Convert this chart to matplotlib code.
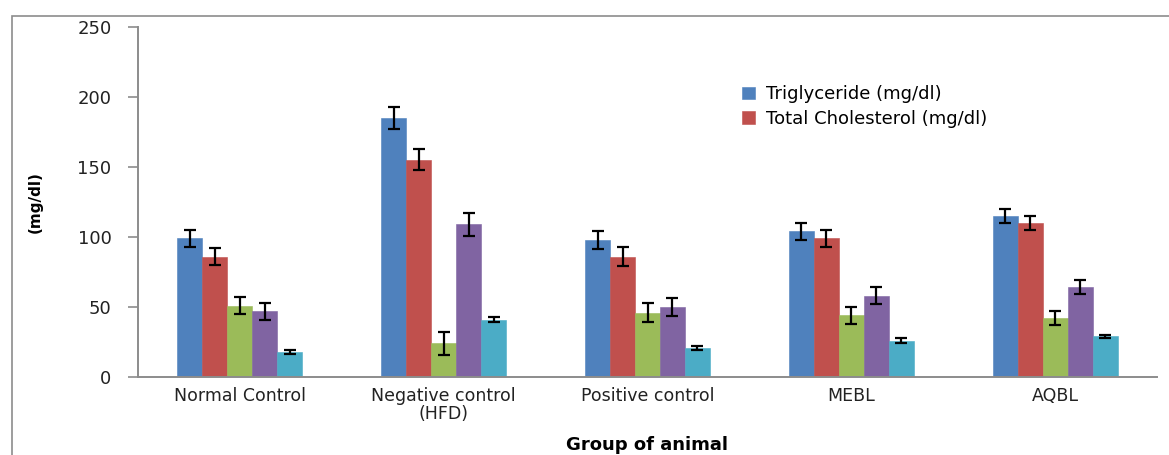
import numpy as np
import matplotlib
matplotlib.use("Agg")
import matplotlib.pyplot as plt
from matplotlib.patches import Rectangle

groups = ["Normal Control", "Negative control\n(HFD)", "Positive control", "MEBL", "AQBL"]
series = ["Triglyceride (mg/dl)", "Total Cholesterol (mg/dl)", "Series 3", "Series 4", "Series 5"]
colors = ["#4F81BD", "#C0504D", "#9BBB59", "#8064A2", "#4BACC6"]

trig = [99, 185, 98, 104, 115]
chol = [86, 155, 86, 99, 110]
s3 = [51, 24, 46, 44, 42]
s4 = [47, 109, 50, 58, 64]
s5 = [18, 41, 20.5, 26, 29]
values = [trig, chol, s3, s4, s5]

trig_err = [6, 8, 6.5, 6, 5]
chol_err = [6, 7.5, 7, 6, 5]
s3_err = [6, 8, 7, 6, 5]
s4_err = [6, 8, 6.5, 6, 5]
s5_err = [1.5, 2, 1.5, 2, 1]
errors = [trig_err, chol_err, s3_err, s4_err, s5_err]

fig = plt.figure(figsize=(11.69, 4.55), dpi=100)
ax = fig.add_axes([138 / 1169, 1 - 377 / 455, (1157 - 138) / 1169, 350 / 455])

# outer chart frame (Excel chart area border), cropped on the right and bottom
fig.patches.append(Rectangle((12 / 1169, -0.2), 1.2, 1.2 - 16 / 455,
                             transform=fig.transFigure, fill=False, edgecolor="#8c8c8c", lw=1.2))

x = np.arange(len(groups))
bw = 0.1225
for k, (vals, errs) in enumerate(zip(values, errors)):
    pos = x + (k - 2) * bw
    ax.bar(pos, vals, width=bw, color=colors[k], edgecolor=colors[k], linewidth=0.4,
           label=series[k], zorder=2)
    ax.errorbar(pos, vals, yerr=errs, fmt="none", ecolor="black", elinewidth=1.6,
                capsize=4, capthick=1.6, zorder=3)

ax.set_xlim(-0.5, len(groups) - 0.5)
ax.set_ylim(0, 250)
ax.set_yticks([0, 50, 100, 150, 200, 250])
ax.set_xticks(x)
ax.set_xticklabels(groups, fontsize=12.5, color="#222222", linespacing=1.05)
ax.tick_params(axis="x", length=0, pad=7)
ax.tick_params(axis="y", length=7, width=1.2, color="#8c8c8c", labelsize=13,
               labelcolor="#222222", pad=12)
for s in ["top", "right"]:
    ax.spines[s].set_visible(False)
for s in ["left", "bottom"]:
    ax.spines[s].set_color("#8c8c8c")
    ax.spines[s].set_linewidth(1.4)

ax.set_xlabel("Group of animal", fontsize=13, fontweight="bold", labelpad=9)
fig.text(35 / 1169, 1 - 202 / 455, "(mg/dl)", rotation=90, fontsize=11, fontweight="bold",
         ha="center", va="center")

h, l = ax.get_legend_handles_labels()
fig.legend(h[:2], l[:2], loc="upper left", bbox_to_anchor=(728 / 1169, 1 - 71 / 455),
           frameon=False, fontsize=13, handlelength=0.7, handleheight=0.7,
           handletextpad=0.6, labelspacing=0.35, borderpad=0.3)

fig.savefig("out.png", dpi=100)
